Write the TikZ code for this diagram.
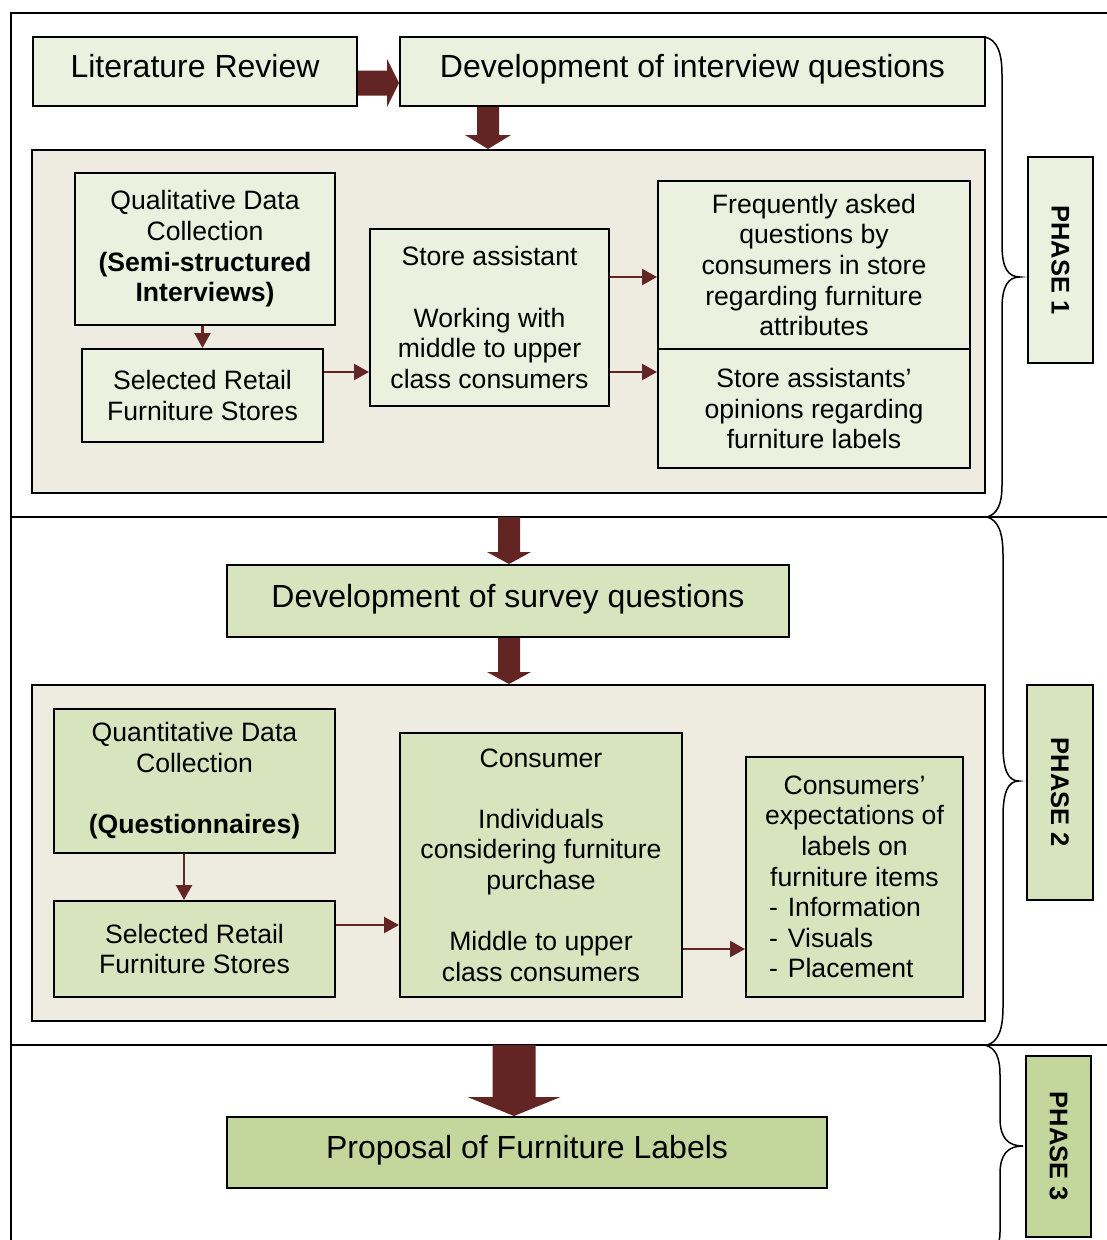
\documentclass[tikz,border=0pt]{standalone}
\usepackage{fontspec}
\setmainfont{Liberation Sans}
\usetikzlibrary{calc,arrows.meta}
\definecolor{arrowc}{HTML}{632523}
\definecolor{gone}{HTML}{EBF1DE}
\definecolor{gtwo}{HTML}{D7E4BD}
\definecolor{gthree}{HTML}{C3D69B}
\definecolor{panelc}{HTML}{EEECE1}
\newcommand\fsmall{\fontsize{26.6}{30.6}\selectfont}
\newcommand\fbig{\fontsize{32}{36}\selectfont}
\newcommand\fphase{\fontsize{25.5}{30}\selectfont\bfseries}
\newcommand\blockdown[5]{\fill[arrowc] let \p1=(#1), \p2=(#2) in (\x1-#3,\y1) -- (\x1-#3,\y2+#5) -- (\x1-#4,\y2+#5) -- (\x1,\y2) -- (\x1+#4,\y2+#5) -- (\x1+#3,\y2+#5) -- (\x1+#3,\y1) -- cycle;}
\newcommand\blockright[5]{\fill[arrowc] let \p1=(#1), \p2=(#2) in (\x1,\y1+#3) -- (\x2-#5,\y1+#3) -- (\x2-#5,\y1+#4) -- (\x2,\y1) -- (\x2-#5,\y1-#4) -- (\x2-#5,\y1-#3) -- (\x1,\y1-#3) -- cycle;}
\begin{document}
\begin{tikzpicture}[x=1pt,y=-1pt,
  box/.style={draw=black,line width=2pt,inner sep=0pt,align=center,font=\fsmall},
  bigbox/.style={draw=black,line width=2pt,inner sep=0pt,font=\fbig,text height=23pt,text depth=11pt},
  panel/.style={draw=black,line width=2pt,fill=panelc,inner sep=0pt},
  phasebox/.style={draw=black,line width=2pt,inner sep=0pt,font=\fphase,rotate=-90},
  conn/.style={draw=arrowc,line width=2.2pt,-{Triangle[length=15pt,width=16pt]}},
  frame/.style={draw=black,line width=2pt},
  brace/.style={draw=black,line width=1.5pt}]
\useasboundingbox (0,0) rectangle (1107,1240);
\fill[white] (0,0) rectangle (1107,1240);

% outer frame and phase separators
\draw[frame] (1107,13) -- (11,13) -- (11,1250);
\coordinate (sepa) at (11,517);
\coordinate (sepb) at (11,1045);
\draw[frame] (sepa) -- (1107,517);
\draw[frame] (sepb) -- (1107,1045);

% ---------- phase 1 ----------
\node[bigbox,fill=gone,minimum width=324pt,minimum height=69pt] (litrev) at (195,71.5) {Literature Review};
\node[bigbox,fill=gone,minimum width=585pt,minimum height=69pt] (dev) at (692.5,71.5) {Development of interview questions};
\node[panel,minimum width=953pt,minimum height=343pt] (pa) at (508.5,321.5) {};
\node[box,fill=gone,minimum width=260pt,minimum height=152pt] (quala) at (205,249)
  {Qualitative Data\\Collection\\\textbf{(Semi-structured}\\\textbf{Interviews)}};
\node[box,fill=gone,minimum width=241pt,minimum height=93pt] (sela) at (202.5,395.5)
  {Selected Retail\\Furniture Stores};
\node[box,fill=gone,minimum width=239pt,minimum height=177pt] (store) at (489.5,317.5)
  {Store assistant\\[30.6pt]Working with\\middle to upper\\class consumers};
\node[box,fill=gone,minimum width=312pt,minimum height=168pt] (faq) at (814,265)
  {Frequently asked\\questions by\\consumers in store\\regarding furniture\\attributes};
\node[box,fill=gone,minimum width=312pt,minimum height=119pt] (opin) at (814,408.5)
  {Store assistants’\\opinions regarding\\furniture labels};

% ---------- phase 2 ----------
\node[bigbox,fill=gtwo,minimum width=562pt,minimum height=72pt] (survey) at (508,601) {Development of survey questions};
\node[panel,minimum width=953pt,minimum height=336pt] (pb) at (508.5,853) {};
\node[box,fill=gtwo,minimum width=281pt,minimum height=144pt] (quant) at (194.5,781)
  {Quantitative Data\\Collection\\[30.6pt]\textbf{(Questionnaires)}};
\node[box,fill=gtwo,minimum width=281pt,minimum height=96pt] (selb) at (194.5,949)
  {Selected Retail\\Furniture Stores};
\node[box,fill=gtwo,minimum width=282pt,minimum height=264pt] (cons) at (541,865)
  {Consumer\\[30.6pt]Individuals\\considering furniture\\purchase\\[30.6pt]Middle to upper\\class consumers};
\node[box,fill=gtwo,minimum width=217pt,minimum height=240pt] (expect) at (854.5,877)
  {Consumers’\\expectations of\\labels on\\furniture items\\
   \makebox[179pt][l]{\hspace{4pt}-\hspace{10pt}Information}\\
   \makebox[179pt][l]{\hspace{4pt}-\hspace{10pt}Visuals}\\
   \makebox[179pt][l]{\hspace{4pt}-\hspace{10pt}Placement}};

% ---------- phase 3 ----------
\node[bigbox,fill=gthree,minimum width=600pt,minimum height=71pt] (prop) at (527,1152.5) {Proposal of Furniture Labels};

% phase labels
\node[phasebox,fill=gone,minimum width=206pt,minimum height=65pt] (pha) at (1060.5,260) {PHASE 1};
\node[phasebox,fill=gtwo,minimum width=215pt,minimum height=66pt] (phb) at (1060,792.5) {PHASE 2};
\node[phasebox,fill=gthree,minimum width=181pt,minimum height=65pt] (phc) at (1058.5,1146.5) {PHASE 3};

% braces
\draw[brace] (985,37) .. controls (997,40) and (1002,52) .. (1002,75) -- (1002,245)
  .. controls (1002,268) and (1008,277) .. (1020,277)
  .. controls (1008,277) and (1002,286) .. (1002,309) -- (1002,485)
  .. controls (1002,505) and (997,514) .. (987,517);
\draw[brace] (987,517) .. controls (998,520) and (1003,532) .. (1003,555) -- (1003,745)
  .. controls (1003,770) and (1008,781) .. (1019,781)
  .. controls (1008,781) and (1003,792) .. (1003,817) -- (1003,1007)
  .. controls (1003,1030) and (998,1042) .. (987,1045);
\draw[brace] (985,1045) .. controls (996,1048) and (1000,1058) .. (1000,1075) -- (1000,1118)
  .. controls (1000,1138) and (1008,1146) .. (1023,1146)
  .. controls (1008,1146) and (1000,1154) .. (1000,1174) -- (1000,1232)
  .. controls (1000,1245) and (996,1250) .. (985,1252);

% guide coordinates
\coordinate (gya) at (0,277);
\coordinate (gyb) at (0,372);
\coordinate (gxc) at (184,0);
\coordinate (gyc) at (0,925);
\coordinate (gyd) at (0,949);
\coordinate (gxa) at (488,0);
\coordinate (gxb) at (509,0);
\coordinate (gxd) at (514,0);
\coordinate (gye) at (0,83);

% thin connectors
\draw[conn] (sela.north |- quala.south) -- (sela.north);
\draw[conn] (sela.east |- gyb) -- (store.west |- gyb);
\draw[conn] (store.east |- gya) -- (faq.west |- gya);
\draw[conn] (store.east |- gyb) -- (opin.west |- gyb);
\draw[conn] (quant.south -| gxc) -- (selb.north -| gxc);
\draw[conn] (selb.east |- gyc) -- (cons.west |- gyc);
\draw[conn] (cons.east |- gyd) -- (expect.west |- gyd);

% block arrows
\blockright{litrev.east |- gye}{dev.west |- gye}{12.5pt}{24pt}{12pt}
\blockdown{dev.south -| gxa}{pa.north -| gxa}{11pt}{23pt}{14pt}
\blockdown{sepa -| gxb}{survey.north -| gxb}{11pt}{22pt}{12pt}
\blockdown{survey.south -| gxb}{pb.north -| gxb}{11pt}{22pt}{12pt}
\blockdown{sepb -| gxd}{prop.north -| gxd}{21.5pt}{46.5pt}{19pt}
\end{tikzpicture}
\end{document}
